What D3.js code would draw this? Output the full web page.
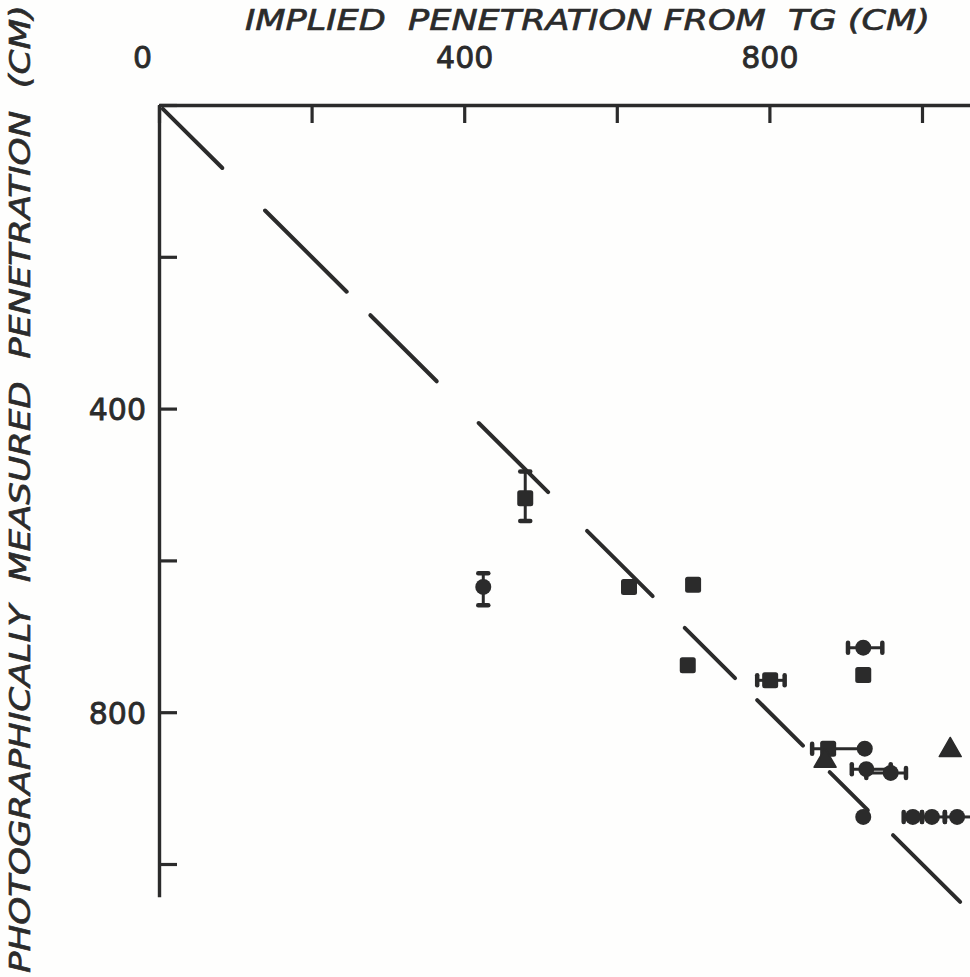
<!DOCTYPE html>
<html>
<head>
<meta charset="utf-8">
<script src="https://cdn.jsdelivr.net/npm/d3@7"></script>
<style>
  html, body { margin: 0; padding: 0; background: #fefefd; }
  svg { display: block; }
  text { fill: #2b2b2b; }
</style>
</head>
<body>
<svg id="chart" width="970" height="977"></svg>
<script>
// Tick values on both axes (labels shown every 400 cm)
const xTicks = [0, 200, 400, 600, 800, 1000];
const yTicks = [0, 200, 400, 600, 800, 1000];
const labelledTicks = [0, 400, 800];

// Squares: implied (x) vs measured (y) penetration, cm; optional error ranges
const squares = [
  { x: 480, y: 518, yErr: [483, 548] },
  { x: 616, y: 635 },
  { x: 700, y: 632 },
  { x: 693, y: 738 },
  { x: 801, y: 758, xErr: [784, 820] },
  { x: 923, y: 751 },
  { x: 877, y: 848, xErr: [856, 925] }
];

// Circles
const circles = [
  { x: 425, y: 635, yErr: [617, 659] },
  { x: 923, y: 715, xErr: [903, 948] },
  { x: 925, y: 848 },
  { x: 927, y: 875, xErr: [908, 959] },
  { x: 959, y: 880, xErr: [927, 979] },
  { x: 923, y: 938 },
  { x: 988, y: 938, xErr: [976, 1000] },
  { x: 1013, y: 938, xErr: [1000, 1030] },
  { x: 1046, y: 938, xErr: [1030, 1070] }
];

// Triangles
const triangles = [
  { x: 873, y: 864 },
  { x: 1037, y: 850 }
];

// Dashed 1:1 reference line, as [start, end] runs along the diagonal
const dashRuns = [
  [5, 83], [139, 246], [277, 364], [419, 510], [561, 647],
  [689, 755], [784, 844], [879, 929], [962, 1050]
];

const ink = "#2b2b2b";
const svg = d3.select("#chart");

const x = d3.scaleLinear().domain([0, 1065]).range([159, 159 + 1065 * 0.763]);
const y = d3.scaleLinear().domain([0, 1043]).range([105, 105 + 1043 * 0.759]);

const fmt = d => labelledTicks.includes(d) ? String(d) : "";

// Top axis
const gx = svg.append("g")
  .attr("transform", `translate(0,${y(0)})`)
  .call(d3.axisTop(x).tickValues(xTicks).tickFormat(fmt)
    .tickSizeInner(-18).tickSizeOuter(0).tickPadding(37));

// Left axis
const gy = svg.append("g")
  .attr("transform", `translate(${x(0)},0)`)
  .call(d3.axisLeft(y).tickValues(yTicks).tickFormat(d => d === 0 ? "" : fmt(d))
    .tickSizeInner(-18).tickSizeOuter(0).tickPadding(13));

[gx, gy].forEach(g => {
  g.select(".domain").attr("stroke", ink).attr("stroke-width", 3.4);
  g.selectAll(".tick line").attr("stroke", ink).attr("stroke-width", 3.2);
  g.selectAll(".tick text")
    .attr("fill", ink)
    .attr("stroke", ink).attr("stroke-width", 0.8)
    .style("font-family", "'DejaVu Sans', sans-serif")
    .style("font-size", "30px");
});
// origin label sits left of the corner
gx.selectAll(".tick text").filter(d => d === 0).attr("dx", -17);
gy.selectAll(".tick text").attr("dy", "0.36em");

// Axis titles
svg.append("text")
  .attr("x", 245).attr("y", 30)
  .attr("textLength", 685).attr("lengthAdjust", "spacingAndGlyphs")
  .attr("stroke", ink).attr("stroke-width", 0.6)
  .style("white-space", "pre")
  .style("font-family", "'DejaVu Sans Condensed', 'DejaVu Sans', sans-serif")
  .style("font-style", "italic")
  .style("font-size", "29px")
  .text("IMPLIED  PENETRATION FROM  TG (CM)");

svg.append("text")
  .attr("transform", "translate(30,973) rotate(-90)")
  .attr("x", 0).attr("y", 0)
  .attr("textLength", 968).attr("lengthAdjust", "spacingAndGlyphs")
  .attr("stroke", ink).attr("stroke-width", 0.6)
  .style("white-space", "pre")
  .style("font-family", "'DejaVu Sans Condensed', 'DejaVu Sans', sans-serif")
  .style("font-style", "italic")
  .style("font-size", "29px")
  .text("PHOTOGRAPHICALLY  MEASURED  PENETRATION  (CM)");

// Dashed 1:1 line
svg.append("g").selectAll("line").data(dashRuns).join("line")
  .attr("x1", d => x(d[0])).attr("y1", d => y(d[0]))
  .attr("x2", d => x(d[1])).attr("y2", d => y(d[1]))
  .attr("stroke", ink).attr("stroke-width", 4).attr("stroke-linecap", "round");

// Error bars
const allPts = [...squares, ...circles];
const eb = svg.append("g").attr("stroke", ink).attr("stroke-width", 3);
allPts.filter(d => d.xErr).forEach(d => {
  eb.append("line").attr("x1", x(d.xErr[0])).attr("x2", x(d.xErr[1]))
    .attr("y1", y(d.y)).attr("y2", y(d.y));
  d.xErr.forEach(v => eb.append("line").attr("stroke-width", 4.5).attr("stroke-linecap", "round")
    .attr("x1", x(v)).attr("x2", x(v)).attr("y1", y(d.y) - 5).attr("y2", y(d.y) + 5));
});
allPts.filter(d => d.yErr).forEach(d => {
  eb.append("line").attr("y1", y(d.yErr[0])).attr("y2", y(d.yErr[1]))
    .attr("x1", x(d.x)).attr("x2", x(d.x));
  d.yErr.forEach(v => eb.append("line").attr("stroke-width", 4.5).attr("stroke-linecap", "round")
    .attr("y1", y(v)).attr("y2", y(v)).attr("x1", x(d.x) - 5).attr("x2", x(d.x) + 5));
});

// Markers
svg.append("g").selectAll("rect").data(squares).join("rect")
  .attr("x", d => x(d.x) - 8).attr("y", d => y(d.y) - 8)
  .attr("width", 16).attr("height", 16).attr("rx", 2.5)
  .attr("fill", ink);

svg.append("g").selectAll("circle").data(circles).join("circle")
  .attr("cx", d => x(d.x)).attr("cy", d => y(d.y)).attr("r", 8)
  .attr("fill", ink);

const tri = d3.symbol().type(d3.symbolTriangle).size(210);
svg.append("g").selectAll("path").data(triangles).join("path")
  .attr("transform", d => `translate(${x(d.x)},${y(d.y)})`)
  .attr("d", tri)
  .attr("fill", ink).attr("stroke", ink).attr("stroke-width", 1.5).attr("stroke-linejoin", "round");
</script>
</body>
</html>
